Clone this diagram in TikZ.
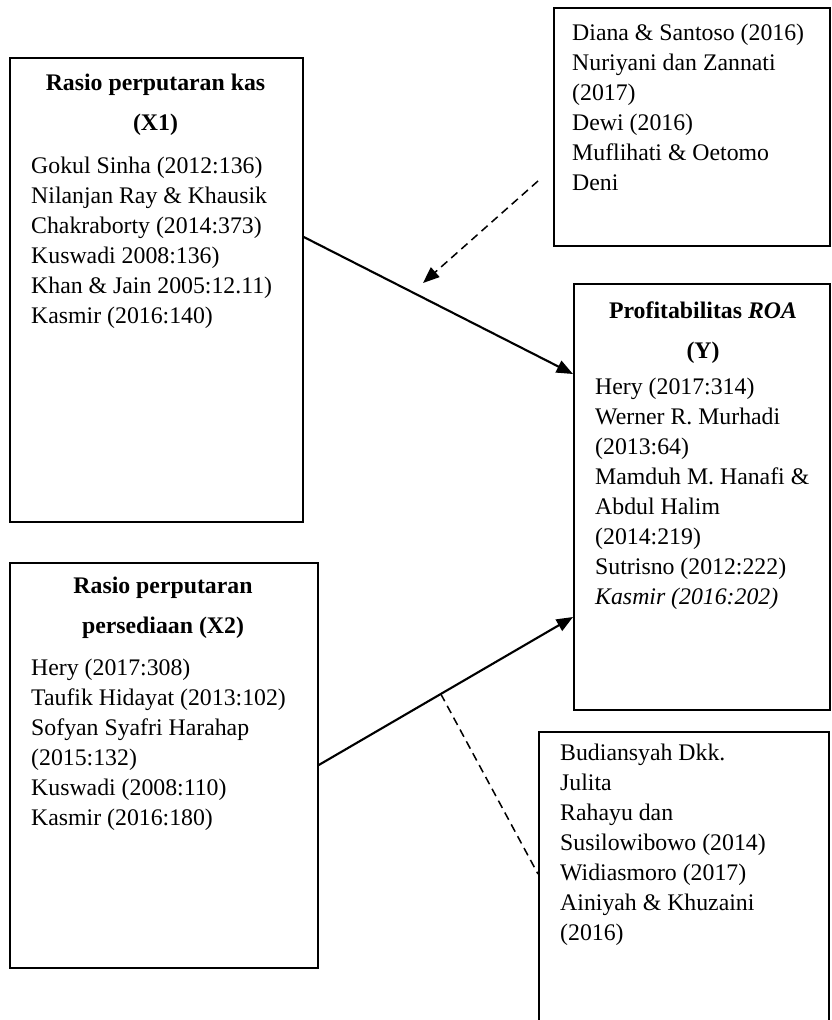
\documentclass[tikz,border=0pt]{standalone}
\usepackage{fontspec}
\setmainfont{Liberation Serif}
\usetikzlibrary{arrows.meta,calc,positioning}

\tikzset{
  kotak/.style={draw, line width=1.5pt, inner sep=0pt, anchor=north west},
  judul/.style={align=center, inner sep=0pt, font=\fontsize{20.3}{34}\selectfont\bfseries},
  isi/.style={align=left, anchor=north west, inner sep=0pt, font=\fontsize{20.3}{25.6}\selectfont},
  panah/.style={line width=1.8pt, -{Triangle[length=14pt,width=11pt]}},
  putus/.style={line width=1.3pt, dash pattern=on 7pt off 4.5pt}
}

\begin{document}
\begin{tikzpicture}[x=0.03cm, y=-0.03cm]
    \useasboundingbox (0,0) rectangle (831,1020);

    % Variabel X1
    \node[kotak, minimum width=8.79cm, minimum height=13.92cm] (X1) at (9,57) {};
    \node[judul] (judulX1) at (155.5,105) {Rasio perputaran kas\\(X1)};
    \node[isi] (isiX1) at (31,157) {
        Gokul Sinha (2012:136)\\
        Nilanjan Ray \& Khausik\\
        Chakraborty (2014:373)\\
        Kuswadi 2008:136)\\
        Khan \& Jain 2005:12.11)\\
        Kasmir (2016:140)
    };

    % Penelitian terdahulu (atas)
    \node[kotak, minimum width=8.28cm, minimum height=7.14cm] (dahulu1) at (553,7) {};
    \node[isi] (isiDahulu1) at (572,24) {
        Diana \& Santoso (2016)\\
        Nuriyani dan Zannati\\
        (2017)\\
        Dewi (2016)\\
        Muflihati \& Oetomo\\
        Deni
    };

    % Variabel Y
    \node[kotak, minimum width=7.68cm, minimum height=12.78cm] (Y) at (573,283) {};
    \node[judul] (judulY) at (703,333) {Profitabilitas \textit{ROA}\\(Y)};
    \node[isi] (isiY) at (595,378) {
        Hery (2017:314)\\
        Werner R. Murhadi\\
        (2013:64)\\
        Mamduh M. Hanafi \&\\
        Abdul Halim\\
        (2014:219)\\
        Sutrisno (2012:222)\\
        \textit{Kasmir (2016:202)}
    };

    % Variabel X2
    \node[kotak, minimum width=9.24cm, minimum height=12.15cm] (X2) at (9,562) {};
    \node[judul] (judulX2) at (163,608) {Rasio perputaran\\persediaan (X2)};
    \node[isi] (isiX2) at (31,659) {
        Hery (2017:308)\\
        Taufik Hidayat (2013:102)\\
        Sofyan Syafri Harahap\\
        (2015:132)\\
        Kuswadi (2008:110)\\
        Kasmir (2016:180)
    };

    % Penelitian terdahulu (bawah)
    \node[kotak, minimum width=8.7cm, minimum height=9.6cm] (dahulu2) at (538,731) {};
    \node[isi] (isiDahulu2) at (560,744) {
        Budiansyah Dkk.\\
        Julita\\
        Rahayu dan\\
        Susilowibowo (2014)\\
        Widiasmoro (2017)\\
        Ainiyah \& Khuzaini\\
        (2016)
    };

    % Garis hubungan
    \coordinate (dari1) at (538,181);
    \coordinate (ke1) at (423,283);
    \draw[panah] (X1.east |- 0,237) -- (Y.west |- 0,374);
    \draw[panah] (X2.east |- 0,765) -- (Y.west |- 0,617);
    \draw[putus, -{Triangle[length=14pt,width=11pt]}] (dari1) -- (ke1);
    \draw[putus] ($(X2.east |- 0,765)!0.48!(Y.west |- 0,617)$) -- (dahulu2.west |- 0,874);
\end{tikzpicture}
\end{document}
